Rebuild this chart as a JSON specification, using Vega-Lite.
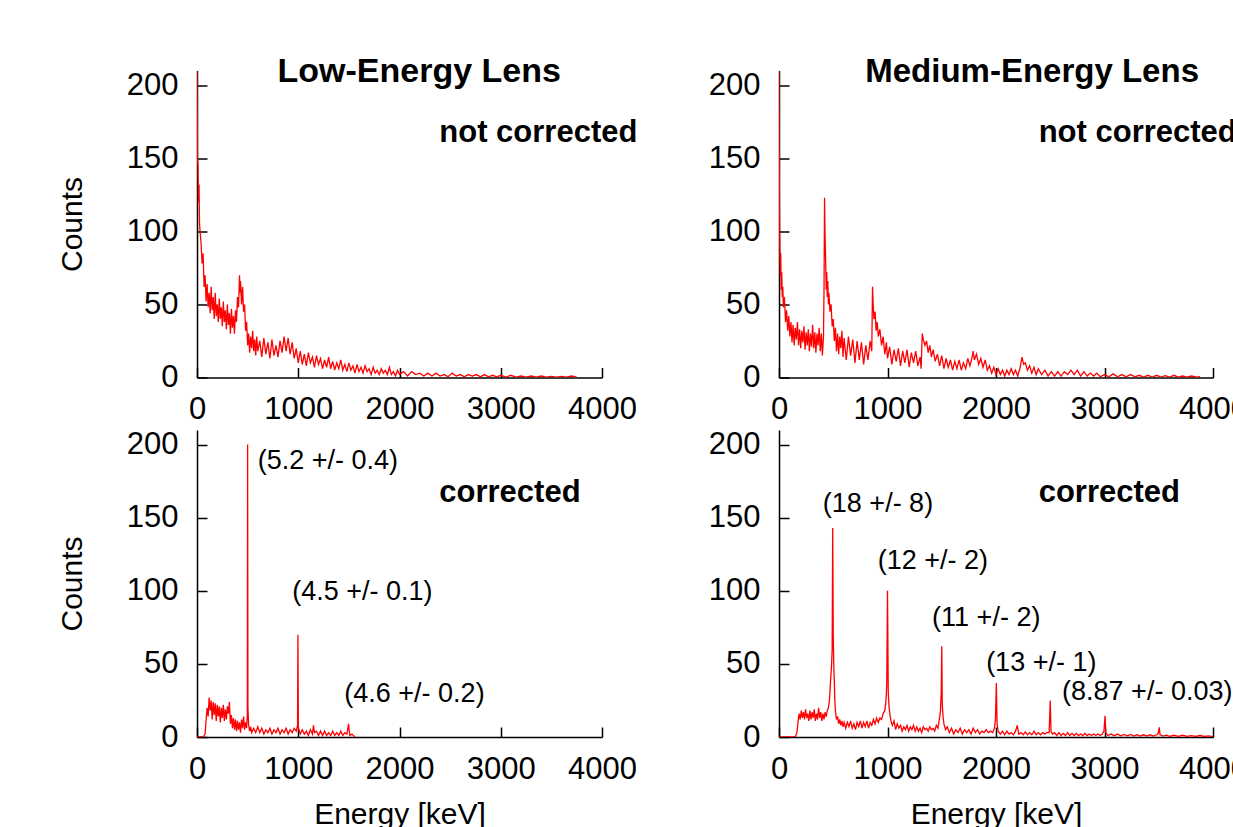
{
"$schema": "https://vega.github.io/schema/vega-lite/v6.json",
"autosize": {"type": "none"},
"padding": {"left": 197, "top": 70.5, "right": 1036, "bottom": 756.5},
"background": "white",
"config": {
  "view": {"stroke": null},
  "axis": {"domainColor": "black", "domainWidth": 1.5, "tickColor": "black", "tickWidth": 1.5, "tickSize": -10, "grid": false, "labelFont": "Liberation Sans", "labelFontSize": 31, "labelColor": "black", "labelFlush": false, "labelOverlap": false, "format": "d", "titleFont": "Liberation Sans", "titleFontSize": 30, "titleFontWeight": "normal", "titleColor": "black"},
  "axisX": {"labelPadding": 27, "titlePadding": 15},
  "axisY": {"labelPadding": 29, "titlePadding": 39}
},
"datasets": {
"labels": [
{"panel":"le_nc","kind":"title","E":795,"counts":202,"text":"Low-Energy Lens"},
{"panel":"me_nc","kind":"title","E":795,"counts":202,"text":"Medium-Energy Lens"},
{"panel":"le_nc","kind":"status","E":2393,"counts":161,"text":"not corrected"},
{"panel":"me_nc","kind":"status","E":2393,"counts":161,"text":"not corrected"},
{"panel":"le_c","kind":"status","E":2393,"counts":161,"text":"corrected"},
{"panel":"me_c","kind":"status","E":2393,"counts":161,"text":"corrected"},
{"panel":"le_c","kind":"fit","E":600,"counts":183,"text":"(5.2 +/- 0.4)"},
{"panel":"le_c","kind":"fit","E":940,"counts":94,"text":"(4.5 +/- 0.1)"},
{"panel":"le_c","kind":"fit","E":1455,"counts":24,"text":"(4.6 +/- 0.2)"},
{"panel":"me_c","kind":"fit","E":404,"counts":154,"text":"(18 +/- 8)"},
{"panel":"me_c","kind":"fit","E":910,"counts":115,"text":"(12 +/- 2)"},
{"panel":"me_c","kind":"fit","E":1411,"counts":75.7,"text":"(11 +/- 2)"},
{"panel":"me_c","kind":"fit","E":1909,"counts":45,"text":"(13 +/- 1)"},
{"panel":"me_c","kind":"fit","E":2609,"counts":25,"text":"(8.87 +/- 0.03)"}
],
"le_nc": [
{"E":0,"counts":210},{"E":5,"counts":150},{"E":10,"counts":145},{"E":15,"counts":120},{"E":20,"counts":132},{"E":25,"counts":105},{"E":30,"counts":100},{"E":40,"counts":92},{"E":50,"counts":78},{"E":60,"counts":85},{"E":70,"counts":62},{"E":80,"counts":70},{"E":90,"counts":52},{"E":100,"counts":64},{"E":110,"counts":48},{"E":120,"counts":58},{"E":130,"counts":44},{"E":140,"counts":62},{"E":150,"counts":46},{"E":160,"counts":55},{"E":170,"counts":40},{"E":180,"counts":58},{"E":190,"counts":42},{"E":200,"counts":50},{"E":210,"counts":38},{"E":220,"counts":54},{"E":230,"counts":40},{"E":240,"counts":48},{"E":250,"counts":35},{"E":260,"counts":52},{"E":270,"counts":38},{"E":280,"counts":46},{"E":290,"counts":33},{"E":300,"counts":50},{"E":310,"counts":36},{"E":320,"counts":44},{"E":330,"counts":30},{"E":340,"counts":47},{"E":350,"counts":34},{"E":360,"counts":42},{"E":370,"counts":30},{"E":380,"counts":46},{"E":390,"counts":38},{"E":400,"counts":55},{"E":410,"counts":48},{"E":420,"counts":70},{"E":425,"counts":58},{"E":430,"counts":66},{"E":440,"counts":50},{"E":450,"counts":62},{"E":460,"counts":45},{"E":470,"counts":50},{"E":480,"counts":32},{"E":490,"counts":38},{"E":500,"counts":22},{"E":510,"counts":30},{"E":520,"counts":17},{"E":530,"counts":28},{"E":540,"counts":20},{"E":550,"counts":32},{"E":560,"counts":18},{"E":570,"counts":26},{"E":580,"counts":15},{"E":590,"counts":28},{"E":600,"counts":18},{"E":620,"counts":25},{"E":640,"counts":14},{"E":660,"counts":27},{"E":680,"counts":16},{"E":700,"counts":24},{"E":720,"counts":13},{"E":740,"counts":26},{"E":760,"counts":15},{"E":780,"counts":22},{"E":800,"counts":14},{"E":820,"counts":25},{"E":840,"counts":17},{"E":860,"counts":28},{"E":880,"counts":18},{"E":900,"counts":27},{"E":920,"counts":16},{"E":940,"counts":24},{"E":960,"counts":13},{"E":980,"counts":20},{"E":1000,"counts":10},{"E":1020,"counts":18},{"E":1040,"counts":9},{"E":1060,"counts":16},{"E":1080,"counts":8},{"E":1100,"counts":17},{"E":1120,"counts":10},{"E":1140,"counts":14},{"E":1160,"counts":7},{"E":1180,"counts":15},{"E":1200,"counts":9},{"E":1220,"counts":13},{"E":1240,"counts":6},{"E":1260,"counts":12},{"E":1280,"counts":7},{"E":1300,"counts":14},{"E":1320,"counts":6},{"E":1340,"counts":11},{"E":1360,"counts":5},{"E":1380,"counts":10},{"E":1400,"counts":6},{"E":1420,"counts":12},{"E":1440,"counts":5},{"E":1460,"counts":9},{"E":1480,"counts":4},{"E":1500,"counts":10},{"E":1520,"counts":5},{"E":1540,"counts":8},{"E":1560,"counts":3},{"E":1580,"counts":9},{"E":1600,"counts":4},{"E":1620,"counts":7},{"E":1640,"counts":3},{"E":1660,"counts":8},{"E":1680,"counts":4},{"E":1700,"counts":6},{"E":1720,"counts":2},{"E":1740,"counts":7},{"E":1760,"counts":3},{"E":1780,"counts":5},{"E":1800,"counts":2},{"E":1820,"counts":6},{"E":1840,"counts":3},{"E":1860,"counts":5},{"E":1880,"counts":2},{"E":1900,"counts":7},{"E":1920,"counts":2},{"E":1940,"counts":4},{"E":1960,"counts":1},{"E":1980,"counts":5},{"E":2000,"counts":2},{"E":2040,"counts":4},{"E":2080,"counts":1},{"E":2120,"counts":4},{"E":2160,"counts":2},{"E":2200,"counts":3},{"E":2240,"counts":1},{"E":2280,"counts":3},{"E":2320,"counts":1},{"E":2360,"counts":3},{"E":2400,"counts":1},{"E":2440,"counts":2},{"E":2480,"counts":0.5},{"E":2520,"counts":3},{"E":2560,"counts":1},{"E":2600,"counts":2},{"E":2640,"counts":0.5},{"E":2680,"counts":2},{"E":2720,"counts":1},{"E":2760,"counts":2},{"E":2800,"counts":0.5},{"E":2840,"counts":2},{"E":2880,"counts":0.5},{"E":2920,"counts":1.5},{"E":2960,"counts":0.5},{"E":3000,"counts":1.5},{"E":3050,"counts":0.3},{"E":3100,"counts":1.5},{"E":3150,"counts":0.3},{"E":3200,"counts":1},{"E":3250,"counts":0.3},{"E":3300,"counts":1},{"E":3350,"counts":0.2},{"E":3400,"counts":1},{"E":3450,"counts":0.2},{"E":3500,"counts":0.8},{"E":3550,"counts":0.2},{"E":3600,"counts":0.8},{"E":3650,"counts":0.2},{"E":3700,"counts":1},{"E":3750,"counts":0.2}
],
"me_nc": [
{"E":0,"counts":210},{"E":4,"counts":120},{"E":8,"counts":89},{"E":12,"counts":70},{"E":16,"counts":85},{"E":20,"counts":60},{"E":25,"counts":72},{"E":30,"counts":55},{"E":35,"counts":62},{"E":40,"counts":48},{"E":50,"counts":55},{"E":60,"counts":38},{"E":70,"counts":46},{"E":80,"counts":32},{"E":90,"counts":42},{"E":100,"counts":28},{"E":110,"counts":38},{"E":120,"counts":24},{"E":130,"counts":36},{"E":140,"counts":22},{"E":150,"counts":34},{"E":160,"counts":26},{"E":170,"counts":38},{"E":180,"counts":22},{"E":190,"counts":33},{"E":200,"counts":20},{"E":210,"counts":32},{"E":220,"counts":24},{"E":230,"counts":35},{"E":240,"counts":19},{"E":250,"counts":31},{"E":260,"counts":22},{"E":270,"counts":33},{"E":280,"counts":18},{"E":290,"counts":30},{"E":300,"counts":21},{"E":310,"counts":36},{"E":320,"counts":20},{"E":330,"counts":31},{"E":340,"counts":17},{"E":350,"counts":30},{"E":360,"counts":22},{"E":370,"counts":34},{"E":380,"counts":18},{"E":390,"counts":30},{"E":400,"counts":15},{"E":410,"counts":28},{"E":415,"counts":60},{"E":420,"counts":123},{"E":425,"counts":95},{"E":430,"counts":80},{"E":435,"counts":60},{"E":440,"counts":72},{"E":445,"counts":55},{"E":450,"counts":66},{"E":455,"counts":50},{"E":460,"counts":58},{"E":470,"counts":45},{"E":480,"counts":50},{"E":490,"counts":35},{"E":500,"counts":40},{"E":510,"counts":25},{"E":520,"counts":34},{"E":530,"counts":18},{"E":540,"counts":30},{"E":550,"counts":16},{"E":560,"counts":28},{"E":570,"counts":20},{"E":580,"counts":32},{"E":590,"counts":14},{"E":600,"counts":27},{"E":620,"counts":12},{"E":640,"counts":28},{"E":660,"counts":15},{"E":680,"counts":26},{"E":700,"counts":10},{"E":720,"counts":25},{"E":740,"counts":12},{"E":760,"counts":24},{"E":780,"counts":9},{"E":800,"counts":22},{"E":820,"counts":12},{"E":840,"counts":25},{"E":855,"counts":18},{"E":862,"counts":62},{"E":868,"counts":50},{"E":875,"counts":40},{"E":885,"counts":45},{"E":895,"counts":32},{"E":905,"counts":38},{"E":915,"counts":28},{"E":930,"counts":33},{"E":945,"counts":22},{"E":960,"counts":28},{"E":975,"counts":16},{"E":990,"counts":24},{"E":1000,"counts":13},{"E":1020,"counts":21},{"E":1040,"counts":9},{"E":1060,"counts":19},{"E":1080,"counts":11},{"E":1100,"counts":20},{"E":1120,"counts":8},{"E":1140,"counts":18},{"E":1160,"counts":10},{"E":1180,"counts":19},{"E":1200,"counts":7},{"E":1220,"counts":17},{"E":1240,"counts":10},{"E":1260,"counts":18},{"E":1280,"counts":8},{"E":1300,"counts":14},{"E":1310,"counts":6},{"E":1320,"counts":30},{"E":1330,"counts":26},{"E":1345,"counts":22},{"E":1360,"counts":25},{"E":1375,"counts":17},{"E":1390,"counts":22},{"E":1405,"counts":14},{"E":1420,"counts":19},{"E":1440,"counts":11},{"E":1460,"counts":16},{"E":1480,"counts":8},{"E":1500,"counts":15},{"E":1520,"counts":6},{"E":1540,"counts":13},{"E":1560,"counts":7},{"E":1580,"counts":12},{"E":1600,"counts":5},{"E":1620,"counts":11},{"E":1640,"counts":6},{"E":1660,"counts":12},{"E":1680,"counts":5},{"E":1700,"counts":10},{"E":1720,"counts":6},{"E":1740,"counts":13},{"E":1760,"counts":8},{"E":1780,"counts":14},{"E":1790,"counts":18},{"E":1800,"counts":12},{"E":1820,"counts":16},{"E":1840,"counts":9},{"E":1860,"counts":13},{"E":1880,"counts":7},{"E":1900,"counts":12},{"E":1920,"counts":5},{"E":1940,"counts":8},{"E":1960,"counts":3},{"E":1980,"counts":7},{"E":2000,"counts":2},{"E":2020,"counts":6},{"E":2040,"counts":2},{"E":2060,"counts":5},{"E":2080,"counts":1},{"E":2100,"counts":5},{"E":2120,"counts":2},{"E":2140,"counts":6},{"E":2160,"counts":2},{"E":2180,"counts":5},{"E":2200,"counts":1},{"E":2220,"counts":6},{"E":2240,"counts":14},{"E":2255,"counts":9},{"E":2270,"counts":10},{"E":2290,"counts":5},{"E":2310,"counts":8},{"E":2330,"counts":3},{"E":2350,"counts":7},{"E":2370,"counts":2},{"E":2390,"counts":6},{"E":2420,"counts":2},{"E":2450,"counts":5},{"E":2480,"counts":1},{"E":2510,"counts":4},{"E":2540,"counts":1},{"E":2570,"counts":4},{"E":2600,"counts":1},{"E":2630,"counts":4},{"E":2660,"counts":2},{"E":2690,"counts":5},{"E":2720,"counts":2},{"E":2750,"counts":5},{"E":2780,"counts":1},{"E":2810,"counts":4},{"E":2840,"counts":1},{"E":2870,"counts":3},{"E":2900,"counts":1},{"E":2930,"counts":3},{"E":2960,"counts":0.5},{"E":3000,"counts":2},{"E":3040,"counts":0.5},{"E":3080,"counts":2.5},{"E":3120,"counts":0.5},{"E":3160,"counts":2},{"E":3200,"counts":0.5},{"E":3240,"counts":2},{"E":3280,"counts":0.5},{"E":3320,"counts":1.5},{"E":3360,"counts":0.3},{"E":3400,"counts":1.5},{"E":3440,"counts":0.3},{"E":3480,"counts":1.5},{"E":3520,"counts":0.3},{"E":3560,"counts":1.2},{"E":3600,"counts":0.3},{"E":3640,"counts":1.5},{"E":3680,"counts":0.2},{"E":3720,"counts":1},{"E":3760,"counts":0.2},{"E":3800,"counts":1},{"E":3850,"counts":0.2},{"E":3880,"counts":0.5}
],
"le_c": [
{"E":0,"counts":0},{"E":60,"counts":0},{"E":80,"counts":2},{"E":90,"counts":12},{"E":100,"counts":20},{"E":110,"counts":14},{"E":120,"counts":27},{"E":130,"counts":18},{"E":140,"counts":25},{"E":150,"counts":12},{"E":160,"counts":24},{"E":170,"counts":15},{"E":180,"counts":23},{"E":190,"counts":11},{"E":200,"counts":22},{"E":210,"counts":14},{"E":220,"counts":21},{"E":230,"counts":10},{"E":240,"counts":20},{"E":250,"counts":13},{"E":260,"counts":22},{"E":270,"counts":11},{"E":280,"counts":19},{"E":290,"counts":12},{"E":300,"counts":21},{"E":310,"counts":16},{"E":320,"counts":24},{"E":330,"counts":9},{"E":340,"counts":15},{"E":350,"counts":6},{"E":360,"counts":13},{"E":370,"counts":5},{"E":380,"counts":12},{"E":390,"counts":4},{"E":400,"counts":11},{"E":410,"counts":5},{"E":420,"counts":10},{"E":430,"counts":3},{"E":440,"counts":12},{"E":450,"counts":6},{"E":460,"counts":14},{"E":470,"counts":5},{"E":480,"counts":10},{"E":490,"counts":6},{"E":497,"counts":15},{"E":500,"counts":200},{"E":503,"counts":20},{"E":510,"counts":8},{"E":520,"counts":4},{"E":530,"counts":7},{"E":540,"counts":3},{"E":560,"counts":6},{"E":580,"counts":3},{"E":600,"counts":7},{"E":620,"counts":3},{"E":640,"counts":6},{"E":660,"counts":2},{"E":680,"counts":5},{"E":700,"counts":3},{"E":720,"counts":6},{"E":740,"counts":2},{"E":760,"counts":5},{"E":780,"counts":3},{"E":800,"counts":6},{"E":820,"counts":2},{"E":840,"counts":5},{"E":860,"counts":3},{"E":880,"counts":6},{"E":900,"counts":2},{"E":920,"counts":5},{"E":940,"counts":3},{"E":960,"counts":6},{"E":980,"counts":4},{"E":993,"counts":8},{"E":997,"counts":70},{"E":1001,"counts":6},{"E":1020,"counts":2},{"E":1040,"counts":5},{"E":1060,"counts":2},{"E":1080,"counts":4},{"E":1100,"counts":1},{"E":1120,"counts":5},{"E":1140,"counts":2},{"E":1150,"counts":8},{"E":1160,"counts":3},{"E":1180,"counts":4},{"E":1200,"counts":1},{"E":1220,"counts":4},{"E":1240,"counts":1},{"E":1260,"counts":4},{"E":1280,"counts":1},{"E":1300,"counts":3},{"E":1320,"counts":1},{"E":1340,"counts":4},{"E":1360,"counts":1},{"E":1380,"counts":3},{"E":1400,"counts":1},{"E":1420,"counts":4},{"E":1440,"counts":1},{"E":1460,"counts":3},{"E":1480,"counts":2},{"E":1497,"counts":9},{"E":1502,"counts":5},{"E":1510,"counts":1},{"E":1530,"counts":2},{"E":1560,"counts":0}
],
"me_c": [
{"E":0,"counts":0},{"E":150,"counts":0},{"E":165,"counts":3},{"E":175,"counts":10},{"E":185,"counts":16},{"E":195,"counts":12},{"E":205,"counts":18},{"E":215,"counts":13},{"E":225,"counts":17},{"E":235,"counts":12},{"E":245,"counts":19},{"E":255,"counts":13},{"E":265,"counts":16},{"E":275,"counts":11},{"E":285,"counts":18},{"E":295,"counts":12},{"E":305,"counts":17},{"E":315,"counts":13},{"E":325,"counts":19},{"E":335,"counts":11},{"E":345,"counts":16},{"E":355,"counts":12},{"E":365,"counts":20},{"E":375,"counts":13},{"E":385,"counts":17},{"E":395,"counts":11},{"E":405,"counts":16},{"E":415,"counts":12},{"E":425,"counts":17},{"E":435,"counts":14},{"E":445,"counts":18},{"E":455,"counts":20},{"E":465,"counts":25},{"E":475,"counts":38},{"E":485,"counts":50},{"E":490,"counts":60},{"E":495,"counts":143},{"E":500,"counts":70},{"E":505,"counts":48},{"E":510,"counts":38},{"E":515,"counts":25},{"E":520,"counts":18},{"E":530,"counts":12},{"E":540,"counts":14},{"E":550,"counts":9},{"E":560,"counts":12},{"E":570,"counts":8},{"E":580,"counts":11},{"E":590,"counts":7},{"E":600,"counts":10},{"E":615,"counts":6},{"E":630,"counts":10},{"E":645,"counts":7},{"E":660,"counts":11},{"E":675,"counts":6},{"E":690,"counts":9},{"E":705,"counts":5},{"E":720,"counts":10},{"E":735,"counts":7},{"E":750,"counts":11},{"E":765,"counts":6},{"E":780,"counts":10},{"E":795,"counts":7},{"E":810,"counts":11},{"E":825,"counts":6},{"E":840,"counts":10},{"E":855,"counts":8},{"E":870,"counts":12},{"E":885,"counts":9},{"E":900,"counts":13},{"E":915,"counts":10},{"E":930,"counts":13},{"E":945,"counts":12},{"E":960,"counts":16},{"E":975,"counts":18},{"E":985,"counts":24},{"E":993,"counts":35},{"E":1000,"counts":100},{"E":1007,"counts":30},{"E":1015,"counts":20},{"E":1025,"counts":14},{"E":1035,"counts":10},{"E":1045,"counts":8},{"E":1060,"counts":11},{"E":1075,"counts":5},{"E":1090,"counts":9},{"E":1105,"counts":6},{"E":1120,"counts":8},{"E":1135,"counts":4},{"E":1150,"counts":7},{"E":1165,"counts":5},{"E":1180,"counts":8},{"E":1195,"counts":4},{"E":1210,"counts":7},{"E":1225,"counts":5},{"E":1240,"counts":8},{"E":1255,"counts":4},{"E":1270,"counts":7},{"E":1285,"counts":4},{"E":1300,"counts":6},{"E":1315,"counts":3},{"E":1330,"counts":7},{"E":1345,"counts":5},{"E":1360,"counts":6},{"E":1375,"counts":4},{"E":1390,"counts":7},{"E":1405,"counts":5},{"E":1420,"counts":6},{"E":1435,"counts":4},{"E":1450,"counts":8},{"E":1465,"counts":6},{"E":1478,"counts":12},{"E":1488,"counts":18},{"E":1495,"counts":30},{"E":1500,"counts":62},{"E":1505,"counts":22},{"E":1512,"counts":14},{"E":1520,"counts":9},{"E":1535,"counts":5},{"E":1550,"counts":7},{"E":1570,"counts":3},{"E":1590,"counts":6},{"E":1610,"counts":2},{"E":1630,"counts":5},{"E":1650,"counts":3},{"E":1670,"counts":6},{"E":1690,"counts":2},{"E":1710,"counts":5},{"E":1730,"counts":3},{"E":1750,"counts":5},{"E":1770,"counts":2},{"E":1790,"counts":6},{"E":1810,"counts":3},{"E":1830,"counts":5},{"E":1850,"counts":2},{"E":1870,"counts":4},{"E":1890,"counts":3},{"E":1910,"counts":5},{"E":1930,"counts":3},{"E":1950,"counts":4},{"E":1970,"counts":3},{"E":1985,"counts":6},{"E":1995,"counts":12},{"E":2003,"counts":37},{"E":2010,"counts":9},{"E":2020,"counts":4},{"E":2040,"counts":2},{"E":2060,"counts":4},{"E":2080,"counts":1.5},{"E":2100,"counts":4},{"E":2120,"counts":2},{"E":2140,"counts":3},{"E":2160,"counts":1.5},{"E":2180,"counts":4},{"E":2195,"counts":8},{"E":2210,"counts":2},{"E":2230,"counts":3},{"E":2250,"counts":1.5},{"E":2270,"counts":3.5},{"E":2290,"counts":1.5},{"E":2310,"counts":3},{"E":2330,"counts":1.5},{"E":2350,"counts":4},{"E":2370,"counts":1.5},{"E":2390,"counts":3},{"E":2410,"counts":1.5},{"E":2430,"counts":3},{"E":2450,"counts":2},{"E":2470,"counts":3},{"E":2490,"counts":3},{"E":2500,"counts":25},{"E":2507,"counts":4},{"E":2520,"counts":2},{"E":2540,"counts":3},{"E":2560,"counts":1},{"E":2580,"counts":3},{"E":2600,"counts":1},{"E":2620,"counts":2.5},{"E":2640,"counts":1},{"E":2660,"counts":3},{"E":2680,"counts":1},{"E":2700,"counts":2.5},{"E":2720,"counts":1},{"E":2740,"counts":2.5},{"E":2760,"counts":1},{"E":2780,"counts":2},{"E":2800,"counts":1},{"E":2820,"counts":2.5},{"E":2840,"counts":1},{"E":2860,"counts":2},{"E":2880,"counts":1},{"E":2900,"counts":2},{"E":2920,"counts":1},{"E":2940,"counts":2},{"E":2960,"counts":1},{"E":2980,"counts":2},{"E":2995,"counts":4},{"E":3005,"counts":14.5},{"E":3012,"counts":3},{"E":3030,"counts":1},{"E":3060,"counts":2},{"E":3090,"counts":0.8},{"E":3120,"counts":2},{"E":3150,"counts":0.8},{"E":3180,"counts":1.8},{"E":3210,"counts":0.8},{"E":3240,"counts":1.8},{"E":3270,"counts":0.6},{"E":3300,"counts":1.6},{"E":3330,"counts":0.6},{"E":3360,"counts":1.5},{"E":3390,"counts":0.6},{"E":3420,"counts":1.5},{"E":3450,"counts":0.6},{"E":3480,"counts":1.5},{"E":3495,"counts":2.5},{"E":3505,"counts":6.6},{"E":3512,"counts":1.5},{"E":3540,"counts":0.6},{"E":3570,"counts":1.2},{"E":3600,"counts":0.5},{"E":3640,"counts":1.2},{"E":3680,"counts":0.5},{"E":3720,"counts":1.2},{"E":3760,"counts":0.5},{"E":3800,"counts":1},{"E":3840,"counts":0.4},{"E":3880,"counts":1},{"E":3920,"counts":0.4},{"E":3960,"counts":0.8},{"E":4000,"counts":0.3}
]
},
"columns": 2,
"bounds": "flush",
"align": "each",
"spacing": {"row": 52.5, "column": 177},
"concat": [
{
 "width": 405, "height": 307,
 "encoding": {
  "x": {"field": "E", "type": "quantitative", "scale": {"domain": [0, 4000], "nice": false, "zero": false}, "axis": {"title": null, "values": [0, 1000, 2000, 3000, 4000]}},
  "y": {"field": "counts", "type": "quantitative", "scale": {"domain": [0, 210], "nice": false}, "axis": {"title": "Counts", "values": [0, 50, 100, 150, 200]}}
 },
 "layer": [
  {"data": {"name": "le_nc"}, "mark": {"type": "line", "color": "#ff0000", "strokeWidth": 1.3, "clip": true}},
  {"data": {"name": "labels"}, "transform": [{"filter": "datum.panel === 'le_nc' && datum.kind === 'title'"}], "mark": {"type": "text", "align": "left", "baseline": "alphabetic", "font": "Liberation Sans", "fontWeight": "bold", "fontSize": 34, "color": "black"}, "encoding": {"text": {"field": "text"}}},
  {"data": {"name": "labels"}, "transform": [{"filter": "datum.panel === 'le_nc' && datum.kind === 'status'"}], "mark": {"type": "text", "align": "left", "baseline": "alphabetic", "font": "Liberation Sans", "fontWeight": "bold", "fontSize": 31, "color": "black"}, "encoding": {"text": {"field": "text"}}}
 ]
},
{
 "width": 434, "height": 307,
 "encoding": {
  "x": {"field": "E", "type": "quantitative", "scale": {"domain": [0, 4000], "nice": false, "zero": false}, "axis": {"title": null, "values": [0, 1000, 2000, 3000, 4000]}},
  "y": {"field": "counts", "type": "quantitative", "scale": {"domain": [0, 210], "nice": false}, "axis": {"title": null, "values": [0, 50, 100, 150, 200]}}
 },
 "layer": [
  {"data": {"name": "me_nc"}, "mark": {"type": "line", "color": "#ff0000", "strokeWidth": 1.3, "clip": true}},
  {"data": {"name": "labels"}, "transform": [{"filter": "datum.panel === 'me_nc' && datum.kind === 'title'"}], "mark": {"type": "text", "align": "left", "baseline": "alphabetic", "font": "Liberation Sans", "fontWeight": "bold", "fontSize": 33, "color": "black"}, "encoding": {"text": {"field": "text"}}},
  {"data": {"name": "labels"}, "transform": [{"filter": "datum.panel === 'me_nc' && datum.kind === 'status'"}], "mark": {"type": "text", "align": "left", "baseline": "alphabetic", "font": "Liberation Sans", "fontWeight": "bold", "fontSize": 31, "color": "black"}, "encoding": {"text": {"field": "text"}}}
 ]
},
{
 "width": 405, "height": 307,
 "encoding": {
  "x": {"field": "E", "type": "quantitative", "scale": {"domain": [0, 4000], "nice": false, "zero": false}, "axis": {"title": "Energy [keV]", "values": [0, 1000, 2000, 3000, 4000]}},
  "y": {"field": "counts", "type": "quantitative", "scale": {"domain": [0, 210], "nice": false}, "axis": {"title": "Counts", "values": [0, 50, 100, 150, 200]}}
 },
 "layer": [
  {"data": {"name": "le_c"}, "mark": {"type": "line", "color": "#ff0000", "strokeWidth": 1.3, "clip": true}},
  {"data": {"name": "labels"}, "transform": [{"filter": "datum.panel === 'le_c' && datum.kind === 'status'"}], "mark": {"type": "text", "align": "left", "baseline": "alphabetic", "font": "Liberation Sans", "fontWeight": "bold", "fontSize": 31, "color": "black"}, "encoding": {"text": {"field": "text"}}},
  {"data": {"name": "labels"}, "transform": [{"filter": "datum.panel === 'le_c' && datum.kind === 'fit'"}], "mark": {"type": "text", "align": "left", "baseline": "alphabetic", "font": "Liberation Sans", "fontSize": 27, "color": "black"}, "encoding": {"text": {"field": "text"}}}
 ]
},
{
 "width": 434, "height": 307,
 "encoding": {
  "x": {"field": "E", "type": "quantitative", "scale": {"domain": [0, 4000], "nice": false, "zero": false}, "axis": {"title": "Energy [keV]", "values": [0, 1000, 2000, 3000, 4000]}},
  "y": {"field": "counts", "type": "quantitative", "scale": {"domain": [0, 210], "nice": false}, "axis": {"title": null, "values": [0, 50, 100, 150, 200]}}
 },
 "layer": [
  {"data": {"name": "me_c"}, "mark": {"type": "line", "color": "#ff0000", "strokeWidth": 1.3, "clip": true}},
  {"data": {"name": "labels"}, "transform": [{"filter": "datum.panel === 'me_c' && datum.kind === 'status'"}], "mark": {"type": "text", "align": "left", "baseline": "alphabetic", "font": "Liberation Sans", "fontWeight": "bold", "fontSize": 31, "color": "black"}, "encoding": {"text": {"field": "text"}}},
  {"data": {"name": "labels"}, "transform": [{"filter": "datum.panel === 'me_c' && datum.kind === 'fit'"}], "mark": {"type": "text", "align": "left", "baseline": "alphabetic", "font": "Liberation Sans", "fontSize": 27, "color": "black"}, "encoding": {"text": {"field": "text"}}}
 ]
}
]
}
